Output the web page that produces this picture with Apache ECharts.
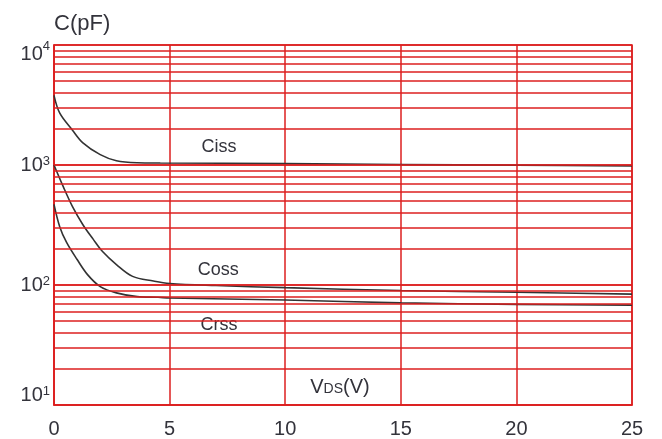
<!DOCTYPE html>
<html>
<head>
<meta charset="utf-8">
<script src="https://cdn.jsdelivr.net/npm/echarts@6/dist/echarts.min.js"></script>
<style>
  html, body { margin: 0; padding: 0; background: #fff; }
  #chart { width: 662px; height: 439px; }
</style>
</head>
<body>
<div id="chart"></div>
<script>
// Drain-source voltage ticks (V)
const vdsTicks = [0, 5, 10, 15, 20, 25];

// Input capacitance Ciss (pF) vs VDS (V)
const cissVds = [0, 0.25, 0.8, 1.25, 2, 2.7, 3.6, 4.6, 10, 15, 20, 25];
const cissPf  = [3800, 2700, 1950, 1530, 1220, 1085, 1045, 1040, 1030, 1010, 995, 980];

// Output capacitance Coss (pF)
const cossVds = [0, 0.4, 0.8, 1.25, 1.7, 2.1, 2.7, 3.4, 4.3, 5, 7, 10, 15, 20, 25];
const cossPf  = [1000, 660, 450, 318, 240, 190, 148, 118, 108, 103, 99, 95, 90, 87, 84];

// Reverse transfer capacitance Crss (pF)
const crssVds = [0, 0.25, 0.55, 1, 1.45, 2, 2.7, 3.6, 4.5, 5, 10, 15, 20, 25];
const crssPf  = [470, 305, 225, 163, 122, 97, 86, 80, 79, 78, 75, 71, 69, 68];

// Log-scale grid values (every 1..9 step of each decade)
const logGridPf = [
  20, 30, 40, 50, 60, 70, 80, 90, 100,
  200, 300, 400, 500, 600, 700, 800, 900, 1000,
  2000, 3000, 4000, 5000, 6000, 7000, 8000, 9000
];

const RED = '#dc1f1f';
const INK = '#33333b';
const FONT = '"Liberation Sans", Arial, sans-serif';

const pairs = (xs, ys) => xs.map((x, i) => [x, ys[i]]);

const chart = echarts.init(document.getElementById('chart'), null, { renderer: 'canvas' });

const curveStyle = { color: '#333', width: 1.6 };

chart.setOption({
  animation: false,
  backgroundColor: '#fff',
  grid: {
    left: 54, right: 30, top: 45, bottom: 34,
    show: true, borderColor: RED, borderWidth: 1.5, backgroundColor: 'transparent'
  },
  xAxis: {
    type: 'value',
    min: vdsTicks[0], max: vdsTicks[vdsTicks.length - 1], interval: 5,
    axisLine: { show: true, lineStyle: { color: RED, width: 1.5 } },
    axisTick: { show: false },
    splitLine: { show: true, lineStyle: { color: RED, width: 1.5 } },
    axisLabel: { margin: 14, fontSize: 20, color: INK, fontFamily: FONT }
  },
  yAxis: {
    type: 'log', logBase: 10, min: 10, max: 10000,
    name: 'C(pF)',
    nameLocation: 'end',
    nameGap: 10,
    nameTextStyle: { align: 'left', verticalAlign: 'bottom', fontSize: 22, color: INK, fontFamily: FONT },
    axisLine: { show: true, lineStyle: { color: RED, width: 1.5 } },
    axisTick: { show: false },
    splitLine: { show: true, lineStyle: { color: RED, width: 1.5 } },
    axisLabel: {
      margin: 4,
      formatter: function (v) {
        const e = Math.round(Math.log10(v));
        if (e === 4) return '{bt|10}{st|' + e + '}';
        if (e === 1) return '{bb|10}{sb|' + e + '}';
        return '{b|10}{s|' + e + '}';
      },
      rich: {
        b:  { fontSize: 20, color: INK, fontFamily: FONT },
        s:  { fontSize: 13, color: INK, fontFamily: FONT, verticalAlign: 'top' },
        bt: { fontSize: 20, color: INK, fontFamily: FONT, padding: [18, 0, 0, 0] },
        st: { fontSize: 13, color: INK, fontFamily: FONT, verticalAlign: 'top', padding: [14, 0, 0, 0] },
        bb: { fontSize: 20, color: INK, fontFamily: FONT, padding: [0, 0, 20, 0] },
        sb: { fontSize: 13, color: INK, fontFamily: FONT, verticalAlign: 'top' }
      }
    }
  },
  series: [
    {
      name: 'grid',
      type: 'line',
      data: [],
      silent: true,
      markLine: {
        silent: true,
        symbol: ['none', 'none'],
        label: { show: false },
        lineStyle: { color: RED, width: 1.5, type: 'solid' },
        emphasis: { disabled: true },
        data: logGridPf.map(v => ({ yAxis: v }))
      },
      z: 1
    },
    {
      name: 'Ciss', type: 'line', data: pairs(cissVds, cissPf),
      smooth: 0.35, showSymbol: false, lineStyle: curveStyle, z: 3
    },
    {
      name: 'Coss', type: 'line', data: pairs(cossVds, cossPf),
      smooth: 0.35, showSymbol: false, lineStyle: curveStyle, z: 3
    },
    {
      name: 'Crss', type: 'line', data: pairs(crssVds, crssPf),
      smooth: 0.35, showSymbol: false, lineStyle: curveStyle, z: 3
    },
    {
      name: 'captions',
      type: 'scatter',
      symbolSize: 0,
      itemStyle: { color: '#fff', opacity: 1 },
      silent: true,
      z: 4,
      label: {
        show: true, position: 'inside',
        fontSize: 18, color: INK, opacity: 1, textBorderWidth: 0, fontFamily: FONT,
        formatter: p => p.name
      },
      data: [
        { name: 'Ciss', value: [7.14, 1416] },
        { name: 'Coss', value: [7.1, 134] },
        { name: 'Crss', value: [7.14, 46], label: { backgroundColor: '#fff', padding: [2, 5, 2, 5] } },
        {
          name: 'VDS(V)', value: [12.37, 14],
          label: {
            formatter: '{v|V}{d|DS}{v|(V)}',
            rich: {
              v: { fontSize: 20, color: INK, fontFamily: FONT, verticalAlign: 'bottom' },
              d: { fontSize: 14, color: INK, fontFamily: FONT, verticalAlign: 'bottom', padding: [0, 0, 1, 0] }
            }
          }
        }
      ]
    }
  ]
});
</script>
</body>
</html>
